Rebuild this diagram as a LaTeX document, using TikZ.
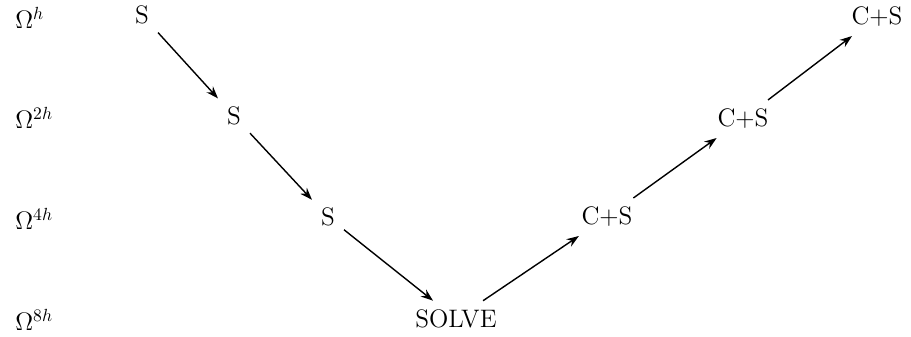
\documentclass[tikz,border=0pt]{standalone}
\usepackage{amsmath,amssymb}
\usepackage{tikz}
\usetikzlibrary{positioning,arrows.meta}
\tikzset{
  lvl/.style={anchor=west,inner sep=0pt,font=\Large},
  op/.style={inner sep=5pt,font=\Large},
  step arrow/.style={->,line width=0.8pt},
}
\begin{document}
\begin{tikzpicture}[x=0.02cm,y=-0.02cm,>={Stealth[length=7pt,width=5pt]}]
  \useasboundingbox (0,0) rectangle (911,337);
  % grid levels
  \node[lvl] (l1) at (15,18) {$\Omega^{h}$};
  \node[lvl] (l2) at (15,118) {$\Omega^{2h}$};
  \node[lvl] (l4) at (15,219) {$\Omega^{4h}$};
  \node[lvl] (l8) at (15,320) {$\Omega^{8h}$};
  % V-cycle
  \node[op] (s1) at (142,15) {S};
  \node[op] (s2) at (234,116) {S};
  \node[op] (s3) at (328,217) {S};
  \node[op] (sv) at (456,319) {SOLVE};
  \node[op] (c3) at (607,217) {C+S};
  \node[op] (c2) at (743,119) {C+S};
  \node[op] (c1) at (877,17) {C+S};
  \draw[step arrow] (s1)--(s2);
  \draw[step arrow] (s2)--(s3);
  \draw[step arrow] (s3)--(sv);
  \draw[step arrow] (sv)--(c3);
  \draw[step arrow] (c3)--(c2);
  \draw[step arrow] (c2)--(c1);
\end{tikzpicture}
\end{document}
